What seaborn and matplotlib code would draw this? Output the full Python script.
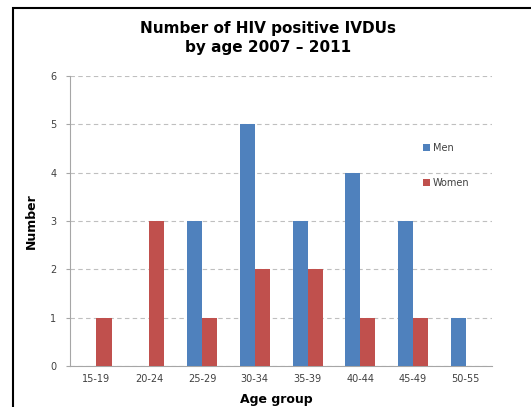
import matplotlib
matplotlib.use("Agg")
import matplotlib.pyplot as plt
import seaborn as sns
import pandas as pd
from matplotlib.patches import Rectangle

age_groups = ["15-19", "20-24", "25-29", "30-34", "35-39", "40-44", "45-49", "50-55"]
men = [0, 0, 3, 5, 3, 4, 3, 1]
women = [1, 3, 1, 2, 2, 1, 1, 0]

df = pd.DataFrame({
    "Age group": age_groups * 2,
    "Number": men + women,
    "Sex": ["Men"] * len(age_groups) + ["Women"] * len(age_groups),
})

sns.set_style("white")
plt.rcParams["font.family"] = ["DejaVu Sans"]
plt.rcParams["text.color"] = "black"

fig = plt.figure(figsize=(5.31, 4.07), dpi=100)
ax = fig.add_axes([0.132, 0.1007, 0.795, 0.7126])

sns.barplot(data=df, x="Age group", y="Number", hue="Sex",
            palette={"Men": "#4F81BD", "Women": "#C0504D"},
            width=0.57, saturation=1, linewidth=0, gap=0, ax=ax, zorder=3)

ax.set_ylim(0, 6)
ax.set_xlim(-0.5, 7.5)
ax.set_yticks(range(0, 7))
ax.yaxis.grid(True, linestyle=(0, (4, 3)), color="#BFBFBF", linewidth=0.8, zorder=0)
ax.set_axisbelow(True)
for s in ["top", "right"]:
    ax.spines[s].set_visible(False)
for s in ["left", "bottom"]:
    ax.spines[s].set_color("#A6A6A6")
    ax.spines[s].set_linewidth(0.8)

ax.set_xticks([i + 0.5 for i in range(-1, 8)], minor=True)
ax.tick_params(axis="x", which="major", length=0, labelsize=7, labelcolor="#404040", pad=6)
ax.tick_params(axis="x", which="minor", length=3, color="#A6A6A6", width=0.8, direction="out")
ax.tick_params(axis="y", length=3, color="#A6A6A6", width=0.8, direction="out",
               labelsize=7, labelcolor="#404040", pad=7)
ax.tick_params(bottom=True, left=True)

ax.set_xlabel("")
ax.set_ylabel("Number", fontsize=9, fontweight="bold", labelpad=9, color="black")

leg = ax.legend(loc="upper left", bbox_to_anchor=(0.815, 0.8), frameon=False,
                fontsize=7, handlelength=0.7, handleheight=0.7,
                handletextpad=0.3, labelspacing=2.6)
for t in leg.get_texts():
    t.set_color("#404040")

fig.text(0.505, 0.948, "Number of HIV positive IVDUs\nby age 2007 \u2013 2011",
         ha="center", va="top", fontsize=11, fontweight="bold", linespacing=1.3,
         color="black")
fig.text(0.52, 0.003, "Age group", ha="center", va="bottom",
         fontsize=9, fontweight="bold", color="black")

fig.patches.append(Rectangle((13 / 531, -0.1), 1.2, 1.1 - 8 / 407,
                             transform=fig.transFigure, fill=False,
                             edgecolor="black", linewidth=1.5))

fig.savefig("out.png", dpi=100)
